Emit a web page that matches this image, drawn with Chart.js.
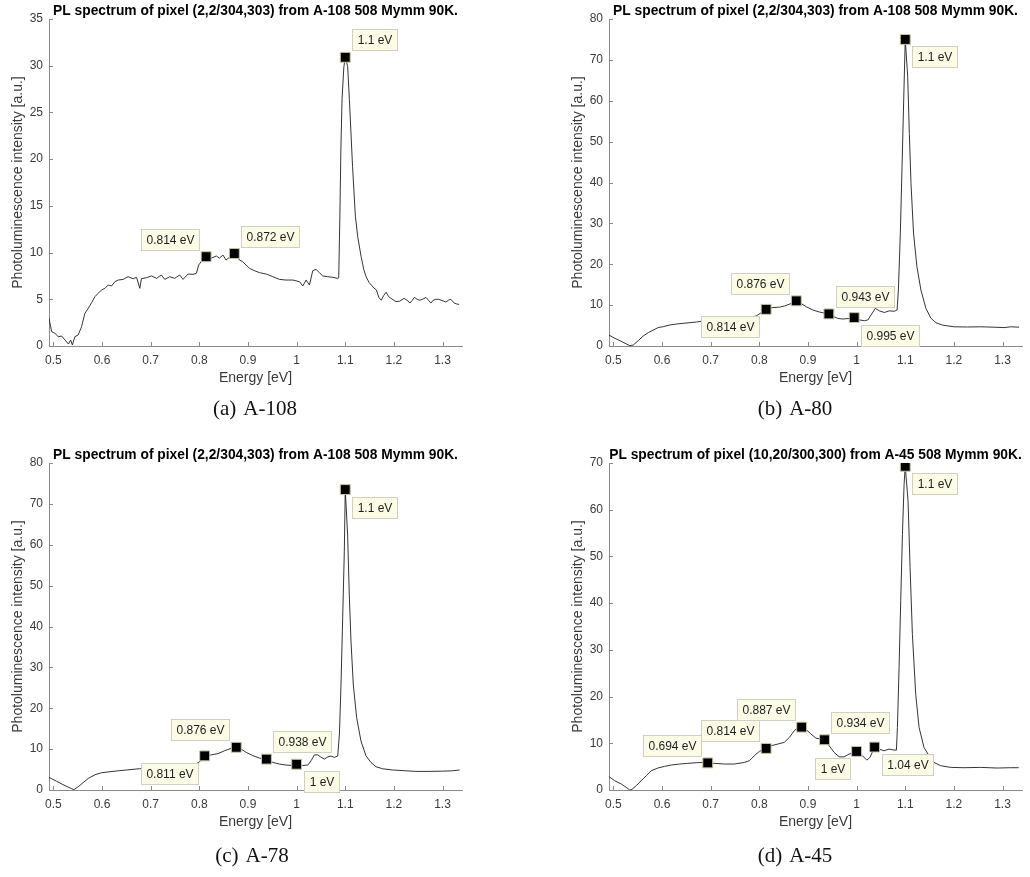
<!DOCTYPE html>
<html lang="en">
<head>
<meta charset="utf-8">
<title>PL spectra</title>
<script src="https://cdn.jsdelivr.net/npm/chart.js@4.4.1/dist/chart.umd.min.js"></script>
<style>
  html, body { margin: 0; padding: 0; background: #fff; }
  body { position: relative; width: 1030px; height: 877px; overflow: hidden; }
  .panel { position: absolute; width: 470px; height: 400px; }
  .caption { position: absolute; width: 300px; margin-left: -150px; text-align: center;
             font-family: "Liberation Serif", "Times New Roman", serif; font-size: 21px; line-height: 21px; color: #111; }
  .caption span { margin-left: 7px; }
</style>
</head>
<body>
<div class="panel" style="left:0;top:0"><canvas id="chartA" width="470" height="400"></canvas></div>
<div class="panel" style="left:560px;top:0"><canvas id="chartB" width="470" height="400"></canvas></div>
<div class="panel" style="left:0;top:444px"><canvas id="chartC" width="470" height="400"></canvas></div>
<div class="panel" style="left:560px;top:444px"><canvas id="chartD" width="470" height="400"></canvas></div>
<div class="caption" style="left:255px;top:398px">(a)<span>A-108</span></div>
<div class="caption" style="left:795px;top:398px">(b)<span>A-80</span></div>
<div class="caption" style="left:252px;top:845px">(c)<span>A-78</span></div>
<div class="caption" style="left:795px;top:845px">(d)<span>A-45</span></div>

<script>
// Eje x común (energía en eV)
const xMin = 0.491, xMax = 1.340;
const xTicks = [0.5, 0.6, 0.7, 0.8, 0.9, 1.0, 1.1, 1.2, 1.3];
const xTickLabels = ['0.5', '0.6', '0.7', '0.8', '0.9', '1', '1.1', '1.2', '1.3'];

// (a) A-108
const energyA = [0.491,0.4965,0.503,0.510,0.517,0.524,0.531,0.5355,0.539,0.5443,0.551,0.558,0.5648,0.5716,0.5786,0.5854,0.5921,0.599,0.6059,0.6127,0.6196,0.6264,0.6332,0.6434,0.6537,0.664,0.671,0.6777,0.681,0.691,0.7017,0.712,0.722,0.729,0.7392,0.7494,0.7597,0.7665,0.7768,0.787,0.794,0.7987,0.804,0.814,0.8245,0.835,0.8415,0.8485,0.855,0.862,0.872,0.8826,0.889,0.896,0.9033,0.9135,0.9238,0.9375,0.951,0.9648,0.978,0.9922,1.006,1.0127,1.0195,1.0264,1.0332,1.04,1.0468,1.0537,1.064,1.0742,1.0845,1.0866,1.089,1.091,1.0935,1.097,1.1,1.105,1.1085,1.115,1.1208,1.1256,1.1325,1.138,1.143,1.149,1.154,1.159,1.164,1.169,1.174,1.179,1.184,1.189,1.194,1.204,1.212,1.221,1.227,1.233,1.238,1.242,1.248,1.253,1.259,1.266,1.271,1.276,1.281,1.286,1.292,1.297,1.302,1.307,1.312,1.317,1.324,1.329,1.334];
const intensityA = [2.96,1.53,1.36,1.0,1.06,0.64,0.21,0.64,0.11,1.0,1.18,2.07,3.5,4.03,4.64,5.28,5.64,6.0,6.17,6.53,6.42,6.88,7.06,7.13,7.42,7.2,7.35,6.17,7.2,7.3,7.5,7.24,7.6,7.13,7.42,7.24,7.6,7.13,7.7,7.67,7.78,8.67,9.03,9.56,9.4,9.63,9.4,9.74,9.2,9.5,9.9,9.2,9.03,8.67,8.31,8.06,7.85,7.7,7.42,7.13,7.06,7.06,6.88,6.42,7.06,6.53,8.06,8.2,7.85,7.5,7.42,7.35,7.24,7.3,14,21,26.5,29.8,30.9,29.9,26.4,19.2,13.9,11.7,9.6,8.2,7.4,6.8,6.5,6.2,6.0,5.2,4.9,5.4,5.75,5.3,5.1,4.75,4.8,5.1,4.9,4.6,4.9,5.2,5.0,4.9,5.0,5.2,4.9,4.6,4.9,5.0,5.0,4.9,4.8,4.7,4.9,5.0,4.6,4.5,4.45];
const tipEnergyA = [0.814, 0.872, 1.1];
const tipValueA = [9.56, 9.9, 30.9];
const tipTextA = ['0.814 eV', '0.872 eV', '1.1 eV'];
const tipSideA = ['NW', 'NE', 'NE'];

// (b) A-80
const energyB = [0.491,0.503,0.5136,0.524,0.534,0.5408,0.551,0.5614,0.5716,0.5819,0.592,0.6024,0.616,0.6299,0.6435,0.6572,0.671,0.6777,0.70,0.74,0.78,0.7942,0.8042,0.814,0.828,0.8418,0.852,0.8657,0.876,0.886,0.8965,0.9101,0.924,0.943,0.9511,0.9614,0.9716,0.9853,0.995,1.006,1.016,1.023,1.0297,1.0386,1.0468,1.057,1.067,1.0775,1.0832,1.0859,1.0899,1.0934,1.0968,1.1,1.105,1.1084,1.1118,1.117,1.124,1.1322,1.1425,1.1527,1.163,1.1767,1.2006,1.228,1.2554,1.2827,1.303,1.317,1.334];
const intensityB = [2.69,1.87,1.3,0.65,0.08,0.24,1.3,2.45,3.26,3.9,4.5,4.73,5.14,5.38,5.55,5.7,5.87,6.0,6.1,6.3,6.8,7.4,8.16,8.97,9.4,9.5,9.8,10.4,11.05,10.4,9.6,8.8,8.3,7.85,7.3,6.75,6.6,6.75,6.95,6.36,6.2,6.36,7.6,9.2,8.6,8.2,8.6,8.5,8.8,13.7,27.6,43.9,60.2,75,66,52,39.8,27.6,19.4,13.7,9.2,6.8,5.7,5.1,4.7,4.65,4.7,4.6,4.5,4.7,4.6];
const tipEnergyB = [0.814, 0.876, 0.943, 0.995, 1.1];
const tipValueB = [8.97, 11.05, 7.85, 6.95, 75];
const tipTextB = ['0.814 eV', '0.876 eV', '0.943 eV', '0.995 eV', '1.1 eV'];
const tipSideB = ['SW', 'NW', 'NE', 'SE', 'SE'];

// (c) A-78
const energyC = [0.491,0.507,0.524,0.5375,0.542,0.551,0.5618,0.572,0.5857,0.5994,0.6165,0.6336,0.6507,0.6678,0.6767,0.72,0.76,0.785,0.7993,0.811,0.8247,0.8384,0.852,0.8657,0.876,0.8862,0.8965,0.9101,0.9238,0.938,0.9512,0.9649,0.9786,0.9922,1.0,1.0127,1.023,1.0298,1.0366,1.0435,1.0503,1.0571,1.064,1.0708,1.0776,1.0845,1.088,1.0913,1.0947,1.0981,1.1,1.1049,1.1083,1.1118,1.1165,1.1234,1.1323,1.1425,1.1528,1.163,1.1767,1.1972,1.2246,1.245,1.2724,1.2997,1.3202,1.3353];
const intensityC = [3.1,2.1,1.06,0.33,0.08,0.8,1.87,2.85,3.74,4.23,4.47,4.7,4.9,5.1,5.2,5.35,5.6,6.0,6.75,8.35,8.6,8.9,9.6,10.2,10.45,10.0,9.2,8.4,7.8,7.55,6.75,6.34,6.1,6.0,6.3,6.0,6.1,7.15,8.6,8.6,8.0,7.56,8.1,8.3,8.0,8.3,13.7,25.9,42.1,58.4,73.5,62.4,47.8,36.4,25.9,17.7,12.0,8.4,6.75,5.7,5.2,4.9,4.7,4.55,4.55,4.6,4.7,4.9];
const tipEnergyC = [0.811, 0.876, 0.938, 1.0, 1.1];
const tipValueC = [8.35, 10.45, 7.55, 6.3, 73.5];
const tipTextC = ['0.811 eV', '0.876 eV', '0.938 eV', '1 eV', '1.1 eV'];
const tipSideC = ['SW', 'NW', 'NE', 'SE', 'SE'];

// (d) A-45
const energyD = [0.491,0.5026,0.5163,0.5265,0.5334,0.5382,0.547,0.5573,0.5676,0.5778,0.5915,0.6052,0.6188,0.6359,0.653,0.6701,0.6838,0.694,0.7078,0.7283,0.7488,0.7693,0.7796,0.7898,0.8001,0.814,0.8241,0.8378,0.8514,0.8617,0.8719,0.8801,0.887,0.8958,0.906,0.9163,0.9265,0.934,0.9436,0.9538,0.9641,0.9744,0.9846,0.9915,1.0,1.012,1.0209,1.0277,1.037,1.0462,1.0565,1.0667,1.077,1.0818,1.0839,1.0873,1.0907,1.0942,1.0976,1.1,1.1058,1.1099,1.1147,1.1215,1.1284,1.1386,1.1489,1.1591,1.1728,1.1933,1.2206,1.2547,1.2889,1.3162,1.3333];
const intensityD = [2.85,2.0,1.28,0.57,0.0,0.14,0.93,2.0,3.06,4.13,4.7,5.06,5.34,5.56,5.7,5.84,5.9,5.8,5.7,5.56,5.56,5.9,6.27,7.34,8.26,8.9,9.47,9.83,10.2,11.25,12.7,13.4,13.46,13.0,12.0,11.1,10.9,10.75,9.47,8.05,7.1,7.1,7.7,7.83,8.26,7.34,6.4,7.0,9.19,8.76,8.4,8.76,8.55,8.55,13.4,26.2,40.5,54.7,65.4,69.3,61.8,47.6,33.3,20.5,13.4,9.1,7.34,5.9,5.2,4.84,4.77,4.84,4.7,4.77,4.77];
const tipEnergyD = [0.694, 0.814, 0.887, 0.934, 1.0, 1.037, 1.1];
const tipValueD = [5.8, 8.9, 13.46, 10.75, 8.26, 9.19, 69.3];
const tipTextD = ['0.694 eV', '0.814 eV', '0.887 eV', '0.934 eV', '1 eV', '1.04 eV', '1.1 eV'];
const tipSideD = ['NW', 'NW', 'NW', 'NE', 'SW', 'SE', 'SE'];

const yTicksA = [0, 5, 10, 15, 20, 25, 30, 35];
const yTicks80 = [0, 10, 20, 30, 40, 50, 60, 70, 80];
const yTicks70 = [0, 10, 20, 30, 40, 50, 60, 70];

const FONT = '"Liberation Sans", Arial, Helvetica, sans-serif';
const AXIS_COLOR = '#8a8a8a';
const TEXT_COLOR = '#3a3a3a';

function makePoints(energies, values) {
    return energies.map((e, i) => ({ x: e, y: values[i] }));
}

// Título, marcas de eje hacia dentro y cuadros de datos (estilo Matlab)
function decorations(title, tipText, tipSide) {
    return {
        id: 'decor',
        afterDraw(chart) {
            const { ctx, chartArea: a, scales: { x, y } } = chart;
            ctx.save();

            // ticks hacia dentro
            ctx.strokeStyle = AXIS_COLOR;
            ctx.lineWidth = 1;
            ctx.beginPath();
            x.ticks.forEach(t => {
                const px = Math.round(x.getPixelForValue(t.value)) + 0.5;
                ctx.moveTo(px, a.bottom);
                ctx.lineTo(px, a.bottom - 4);
            });
            y.ticks.forEach(t => {
                const py = Math.round(y.getPixelForValue(t.value)) + 0.5;
                ctx.moveTo(a.left, py);
                ctx.lineTo(a.left + 4, py);
            });
            ctx.stroke();

            // título
            ctx.fillStyle = '#000';
            ctx.font = 'bold 13.8px ' + FONT;
            ctx.textAlign = 'center';
            ctx.textBaseline = 'middle';
            ctx.fillText(title, (a.left + a.right) / 2, 11.5);

            // cuadros de datos
            const meta = chart.getDatasetMeta(0);
            ctx.font = '12px ' + FONT;
            for (let i = meta.data.length - 1; i >= 0; i--) {
                const mx = meta.data[i].x, my = meta.data[i].y;
                const w = Math.round(ctx.measureText(tipText[i]).width + 10), h = 21;
                const side = tipSide[i];
                const bx = Math.round(side.includes('E') ? mx + 7 : mx - 7 - w);
                const by = Math.round(side.includes('N') ? my - 7 - h : my + 7);
                ctx.fillStyle = '#fbfbe6';
                ctx.fillRect(bx, by, w, h);
                ctx.strokeStyle = '#cfcfc2';
                ctx.strokeRect(bx + 0.5, by + 0.5, w, h);
                ctx.fillStyle = '#1e1e1e';
                ctx.fillText(tipText[i], bx + w / 2 + 0.5, by + h / 2 + 1);
            }
            ctx.restore();
        }
    };
}

function createSpectrumChart(canvasId, title, energies, values, tipE, tipV, tipText, tipSide, yMax, yTicks) {
    const ctx = document.getElementById(canvasId).getContext('2d');
    return new Chart(ctx, {
        type: 'scatter',
        data: {
            datasets: [{
                data: makePoints(tipE, tipV),
                pointStyle: 'rect',
                pointRadius: 7,
                backgroundColor: '#000',
                borderColor: '#c9c49c',
                borderWidth: 1,
                order: 0
            },
            {
                data: makePoints(energies, values),
                showLine: true,
                borderColor: '#1e1e1e',
                borderWidth: 0.9,
                pointRadius: 0,
                tension: 0,
                order: 1
            }]
        },
        options: {
            responsive: false,
            animation: false,
            events: [],
            layout: {
                padding: { left: 0, right: 7, top: 19, bottom: 0 }
            },
            plugins: {
                legend: { display: false },
                tooltip: { enabled: false }
            },
            scales: {
                x: {
                    type: 'linear',
                    min: xMin,
                    max: xMax,
                    afterBuildTicks: s => { s.ticks = xTicks.map(v => ({ value: v })); },
                    afterFit: s => { s.height = 54; },
                    grid: { display: false, drawTicks: false },
                    border: { display: true, color: AXIS_COLOR, width: 1 },
                    ticks: {
                        color: TEXT_COLOR,
                        font: { family: FONT, size: 12 },
                        padding: 7,
                        maxRotation: 0,
                        autoSkip: false,
                        callback: (v, i) => xTickLabels[i]
                    },
                    title: {
                        display: true,
                        text: 'Energy [eV]',
                        color: TEXT_COLOR,
                        font: { family: FONT, size: 14 },
                        padding: { top: 0, bottom: 13.6 }
                    }
                },
                y: {
                    type: 'linear',
                    min: 0,
                    max: yMax,
                    afterBuildTicks: s => { s.ticks = yTicks.map(v => ({ value: v })); },
                    afterFit: s => { s.width = 49; },
                    grid: { display: false, drawTicks: false },
                    border: { display: true, color: AXIS_COLOR, width: 1 },
                    ticks: {
                        color: TEXT_COLOR,
                        font: { family: FONT, size: 12 },
                        padding: 6,
                        autoSkip: false,
                        callback: v => String(v)
                    },
                    title: {
                        display: true,
                        text: 'Photoluminescence intensity [a.u.]',
                        color: TEXT_COLOR,
                        font: { family: FONT, size: 14 },
                        padding: { top: 9.6, bottom: 0 }
                    }
                }
            }
        },
        plugins: [decorations(title, tipText, tipSide)]
    });
}

const titleA = 'PL spectrum of pixel (2,2/304,303) from A-108 508 Mymm 90K.';
const titleD = 'PL spectrum of pixel (10,20/300,300) from A-45 508 Mymm 90K.';

var chartA = createSpectrumChart('chartA', titleA, energyA, intensityA, tipEnergyA, tipValueA, tipTextA, tipSideA, 35, yTicksA);
var chartB = createSpectrumChart('chartB', titleA, energyB, intensityB, tipEnergyB, tipValueB, tipTextB, tipSideB, 80, yTicks80);
var chartC = createSpectrumChart('chartC', titleA, energyC, intensityC, tipEnergyC, tipValueC, tipTextC, tipSideC, 80, yTicks80);
var chartD = createSpectrumChart('chartD', titleD, energyD, intensityD, tipEnergyD, tipValueD, tipTextD, tipSideD, 70, yTicks70);
</script>
</body>
</html>
